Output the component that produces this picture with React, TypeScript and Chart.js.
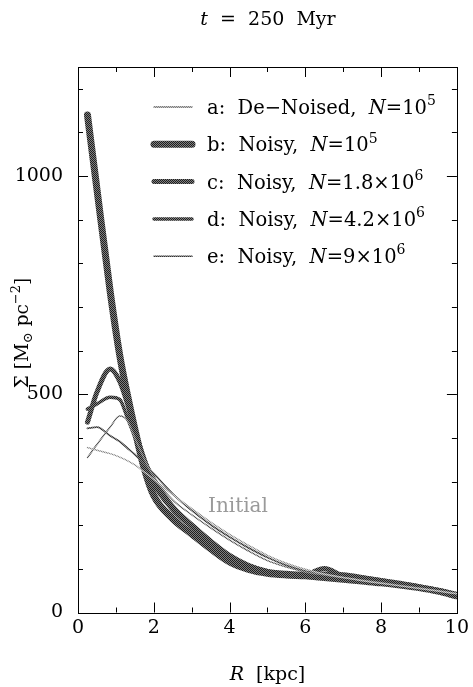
import React, { useEffect, useRef } from "react";
import { Chart, registerables } from "chart.js";

Chart.register(...registerables);

// ---- data ----
const radii = [0.25, 0.5, 0.85, 1.1, 1.3, 1.5, 1.75, 2, 2.5, 3, 3.5, 4, 4.5, 5, 5.5, 6, 6.5, 7, 7.5, 8, 8.5, 9, 9.5, 10];
const sigmaInitial = [378, 372, 364, 356, 348, 338, 322, 305, 270, 238, 207, 179, 154, 131, 113, 99, 88, 80, 73, 67, 61, 55, 49, 43];
const sigmaA = [355, 385, 425, 450, 440, 400, 352, 310, 258, 224, 194, 166, 141, 119, 104, 93, 86, 80, 74, 68, 62, 56, 50, 43];
const sigmaB = [1140, 970, 735, 590, 500, 420, 330, 268, 215, 180, 146, 116, 99, 90, 86, 84, 80, 76, 72, 68, 63, 57, 49, 38];
const sigmaC = [436, 505, 558, 530, 480, 418, 350, 296, 236, 197, 161, 128, 107, 94, 90, 88, 101, 84, 79, 73, 67, 59, 51, 42];
const sigmaD = [466, 478, 493, 488, 447, 402, 350, 308, 245, 203, 166, 133, 110, 96, 89, 85, 90, 88, 82, 75, 66, 58, 50, 42];
const sigmaE = [422, 425, 405, 392, 377, 362, 340, 318, 272, 234, 201, 173, 148, 126, 108, 95, 86, 80, 74, 68, 62, 56, 50, 43];

const xTickValues = [0, 2, 4, 6, 8, 10];
const yTickValues = [0, 500, 1000];

const titleText = "t  =  250  Myr";
const initialLabel = "Initial";
const legendRows = [
  { prefix: "a:  De\u2212Noised,  ", value: "=10", exp: "5" },
  { prefix: "b:  Noisy,  ", value: "=10", exp: "5" },
  { prefix: "c:  Noisy,  ", value: "=1.8\u00d710", exp: "6" },
  { prefix: "d:  Noisy,  ", value: "=4.2\u00d710", exp: "6" },
  { prefix: "e:  Noisy,  ", value: "=9\u00d710", exp: "6" },
];

const FONT = '"DejaVu Serif", "Liberation Serif", serif';

type Seg = { t: string; k?: "it" | "sup" | "sub" };

function drawRich(ctx: CanvasRenderingContext2D, segs: Seg[], x: number, y: number, size: number, align: "left" | "center") {
  const fontFor = (s: Seg) => {
    if (s.k === "it") return `italic ${size}px ${FONT}`;
    if (s.k === "sup" || s.k === "sub") return `${Math.round(size * 0.7)}px ${FONT}`;
    return `${size}px ${FONT}`;
  };
  let total = 0;
  for (const s of segs) {
    ctx.font = fontFor(s);
    total += ctx.measureText(s.t).width;
  }
  let cx = align === "center" ? x - total / 2 : x;
  ctx.textBaseline = "alphabetic";
  ctx.textAlign = "left";
  for (const s of segs) {
    ctx.font = fontFor(s);
    let dy = 0;
    if (s.k === "sup") dy = -size * 0.45;
    if (s.k === "sub") dy = size * 0.22;
    ctx.fillText(s.t, cx, y + dy);
    cx += ctx.measureText(s.t).width;
  }
}

function makePattern(dark: string, light: string): CanvasPattern | string {
  const c = document.createElement("canvas");
  c.width = 2;
  c.height = 2;
  const g = c.getContext("2d");
  if (!g) return dark;
  g.fillStyle = light;
  g.fillRect(0, 0, 2, 2);
  g.fillStyle = dark;
  g.fillRect(0, 0, 1, 1);
  g.fillRect(1, 1, 1, 1);
  const p = g.createPattern(c, "repeat");
  return p || dark;
}

export default function App() {
  const ref = useRef<HTMLCanvasElement | null>(null);

  useEffect(() => {
    const canvas = ref.current;
    if (!canvas) return;

    const pInitial = makePattern("#8a8a8a", "#d8d8d8");
    const pA = makePattern("#555555", "#b0b0b0");
    const pE = makePattern("#333333", "#8a8a8a");
    const pDark = makePattern("#1e1e1e", "#808080");

    const styles = [
      { color: pA, width: 1.5 },
      { color: pDark, width: 7 },
      { color: pDark, width: 5 },
      { color: pDark, width: 3.5 },
      { color: pE, width: 1.6 },
    ];

    const toPts = (ys: number[]) => radii.map((r, i) => ({ x: r, y: ys[i] }));
    const mk = (label: string, ys: number[], color: any, width: number) => ({
      label,
      data: toPts(ys),
      borderColor: color,
      borderWidth: width,
      pointRadius: 0,
      fill: false,
      cubicInterpolationMode: "monotone" as const,
      borderCapStyle: "round" as const,
      borderJoinStyle: "round" as const,
    });

    const frame = {
      id: "frameAndText",
      afterDraw(chart: any) {
        const ctx: CanvasRenderingContext2D = chart.ctx;
        const { left, right, top, bottom } = chart.chartArea;
        const xs = chart.scales.x;
        const ys = chart.scales.y;
        ctx.save();
        ctx.strokeStyle = "#000";
        ctx.lineWidth = 1;
        ctx.strokeRect(Math.round(left) + 0.5, Math.round(top) + 0.5, Math.round(right - left), Math.round(bottom - top));
        ctx.beginPath();
        for (let v = 1; v < 10; v++) {
          const px = Math.round(xs.getPixelForValue(v)) + 0.5;
          const len = v % 2 === 0 ? 10 : 5;
          ctx.moveTo(px, bottom);
          ctx.lineTo(px, bottom - len);
          ctx.moveTo(px, top);
          ctx.lineTo(px, top + len);
        }
        for (let v = 100; v < 1250; v += 100) {
          const py = Math.round(ys.getPixelForValue(v)) + 0.5;
          const len = v % 500 === 0 ? 10 : 5;
          ctx.moveTo(left, py);
          ctx.lineTo(left + len, py);
          ctx.moveTo(right, py);
          ctx.lineTo(right - len, py);
        }
        ctx.stroke();

        ctx.fillStyle = "#000";
        // title
        drawRich(ctx, [{ t: "t", k: "it" }, { t: titleText.slice(1) }], 268, 25, 19, "center");
        // x axis title
        drawRich(ctx, [{ t: "R", k: "it" }, { t: "  [kpc]" }], (left + right) / 2, 680, 19, "center");
        // y axis title
        ctx.save();
        ctx.translate(28, 333);
        ctx.rotate(-Math.PI / 2);
        drawRich(ctx, [{ t: "\u03a3 [M" }, { t: "\u2299", k: "sub" }, { t: " pc" }, { t: "\u22122", k: "sup" }, { t: "]" }], 0, 0, 18.5, "center");
        ctx.restore();

        // legend
        for (let i = 0; i < legendRows.length; i++) {
          const yy = 107 + i * 37.3;
          const st = styles[i];
          ctx.save();
          ctx.strokeStyle = st.color as any;
          ctx.lineWidth = st.width;
          ctx.lineCap = "round";
          ctx.beginPath();
          ctx.moveTo(154, yy);
          ctx.lineTo(192, yy);
          ctx.stroke();
          ctx.restore();
          const row = legendRows[i];
          ctx.fillStyle = "#000";
          drawRich(ctx, [{ t: row.prefix }, { t: "N", k: "it" }, { t: row.value }, { t: row.exp, k: "sup" }], 207, yy + 7, 19.5, "left");
        }

        // "Initial" label
        ctx.fillStyle = "#9a9a9a";
        drawRich(ctx, [{ t: initialLabel }], 208, 512, 20, "left");
        ctx.restore();
      },
    };

    const chart = new Chart(canvas, {
      type: "line",
      data: {
        datasets: [
          mk("Initial", sigmaInitial, pInitial, 1.5),
          mk("a", sigmaA, pA, 1.5),
          mk("e", sigmaE, pE, 1.8),
          mk("d", sigmaD, pDark, 3.5),
          mk("c", sigmaC, pDark, 5),
          mk("b", sigmaB, pDark, 7),
        ],
      },
      options: {
        animation: false,
        responsive: false,
        layout: { padding: { left: 0, right: 13, top: 67, bottom: 0 } },
        plugins: { legend: { display: false }, title: { display: false }, tooltip: { enabled: false } },
        scales: {
          x: {
            type: "linear",
            min: 0,
            max: 10,
            grid: { display: false, drawTicks: false },
            border: { display: false },
            afterFit: (s: any) => {
              s.height = 74.5;
            },
            afterBuildTicks: (s: any) => {
              s.ticks = xTickValues.map((v) => ({ value: v }));
            },
            ticks: { color: "#000", padding: 4, font: { family: FONT, size: 19 }, maxRotation: 0, autoSkip: false, callback: (v: any) => String(v) },
          },
          y: {
            type: "linear",
            min: 0,
            max: 1250,
            grid: { display: false, drawTicks: false },
            border: { display: false },
            afterFit: (s: any) => {
              s.width = 78;
            },
            afterBuildTicks: (s: any) => {
              s.ticks = yTickValues.map((v) => ({ value: v }));
            },
            ticks: { color: "#000", padding: 15, font: { family: FONT, size: 19 }, autoSkip: false, callback: (v: any) => String(v) },
          },
        },
      },
      plugins: [frame],
    });

    return () => chart.destroy();
  }, []);

  return (
    <div style={{ position: "absolute", left: 0, top: 0, width: 473, height: 687, background: "#fff" }}>
      <canvas ref={ref} width={473} height={687} style={{ display: "block", width: 473, height: 687 }} />
    </div>
  );
}
